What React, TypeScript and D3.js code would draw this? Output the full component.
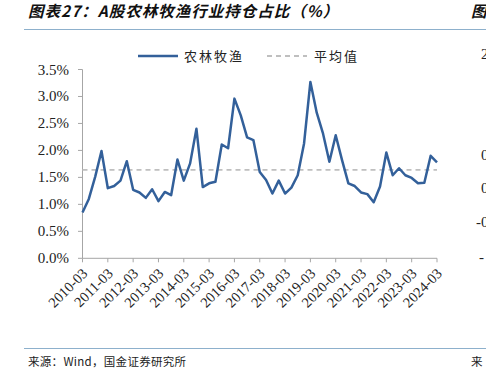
import React from "react";
import * as d3 from "d3";

const years = ["2010-03","2011-03","2012-03","2013-03","2014-03","2015-03","2016-03","2017-03","2018-03","2019-03","2020-03","2021-03","2022-03","2023-03","2024-03"];
const values = [0.85,1.10,1.51,1.99,1.30,1.34,1.44,1.80,1.27,1.22,1.12,1.28,1.06,1.23,1.17,1.83,1.44,1.76,2.40,1.32,1.39,1.42,2.11,2.04,2.96,2.65,2.24,2.19,1.60,1.45,1.20,1.44,1.20,1.31,1.54,2.13,3.27,2.70,2.31,1.79,2.28,1.82,1.39,1.34,1.22,1.19,1.04,1.33,1.96,1.54,1.67,1.54,1.49,1.39,1.40,1.90,1.78];
const avgValue = 1.64;
const yTicks = [0,0.5,1,1.5,2,2.5,3,3.5];
const seriesName = "农林牧渔";
const avgName = "平均值";
const title = "图表27：A股农林牧渔行业持仓占比（%）";
const source = "来源：Wind，国金证券研究所";

export default function App() {
  const W = 486, H = 376;
  const x = d3.scaleLinear().domain([0, values.length - 1]).range([82.5, 437]);
  const y = d3.scaleLinear().domain([0, 3.5]).range([258.3, 69.5]);
  const line = d3.line<number>().x((_, i) => x(i)).y(d => y(d));
  const serif = "'Liberation Serif','DejaVu Serif',serif";
  const cjk = "'Noto Sans CJK SC',sans-serif";
  const blue = "#33609a";
  return (
    <svg width={W} height={H} style={{ position: "absolute", left: 0, top: 0, background: "#fff" }}>
      <defs>
        <clipPath id="clip"><rect x={0} y={0} width={W} height={H} /></clipPath>
      </defs>
      <text x={28} y={17} fontFamily={cjk} fontSize={15.5} fontWeight="bold" fontStyle="italic" fill="#111" letterSpacing={1}>{title}</text>
      <text x={471} y={17} fontFamily={cjk} fontSize={15.5} fontWeight="bold" fontStyle="italic" fill="#111">图</text>
      <line x1={24} x2={486} y1={29.5} y2={29.5} stroke="#8db0cc" strokeWidth={1.2} />
      {/* legend */}
      <line x1={138} x2={178} y1={56} y2={56} stroke={blue} strokeWidth={2.5} />
      <text x={184} y={61} fontFamily={cjk} fontSize={13} fill="#222" letterSpacing={2}>{seriesName}</text>
      <line x1={267} x2={307} y1={56} y2={56} stroke="#bfbfbf" strokeWidth={1.8} strokeDasharray="5,4" />
      <text x={314} y={61} fontFamily={cjk} fontSize={13} fill="#222" letterSpacing={2}>{avgName}</text>
      {/* y axis */}
      <line x1={82.5} x2={82.5} y1={y(3.5)} y2={y(0)} stroke="#a6a6a6" />
      {yTicks.map(t => (
        <g key={t}>
          <line x1={78} x2={82.5} y1={y(t)} y2={y(t)} stroke="#a6a6a6" />
          <text x={69} y={y(t) + 5} textAnchor="end" fontFamily={serif} fontSize={15} fill="#222">{t.toFixed(1)}%</text>
        </g>
      ))}
      {/* x axis */}
      <line x1={82.5} x2={437} y1={y(0)} y2={y(0)} stroke="#a6a6a6" />
      {years.map((lab, k) => {
        const xi = x(k * 4);
        return (
          <g key={lab}>
            <line x1={xi} x2={xi} y1={y(0)} y2={y(0) + 4} stroke="#a6a6a6" />
            <text transform={`translate(${xi + 6},${y(0) + 16}) rotate(-45)`} textAnchor="end" fontFamily={serif} fontSize={14.5} fill="#222">{lab}</text>
          </g>
        );
      })}
      {/* average */}
      <line x1={82.5} x2={437} y1={y(avgValue)} y2={y(avgValue)} stroke="#bfbfbf" strokeWidth={1.8} strokeDasharray="5,4" />
      <path d={line(values) || ""} fill="none" stroke={blue} strokeWidth={2.5} strokeLinejoin="round" />
      {/* neighbor fragments */}
      <g clipPath="url(#clip)" fontFamily={serif} fontSize={15} fill="#222">
        <text x={481} y={59}>2</text>
        <text x={481} y={160}>0</text>
        <text x={481} y={193}>0</text>
        <text x={476} y={227}>-0</text>
        <text x={479} y={262}>-</text>
      </g>
      <line x1={24} x2={486} y1={348.5} y2={348.5} stroke="#8db0cc" strokeWidth={1.2} />
      <text x={28} y={366} fontFamily={cjk} fontSize={11.5} fill="#222" letterSpacing={0.3}>{source}</text>
      <text x={471} y={366} fontFamily={cjk} fontSize={11.5} fill="#222">来</text>
    </svg>
  );
}
